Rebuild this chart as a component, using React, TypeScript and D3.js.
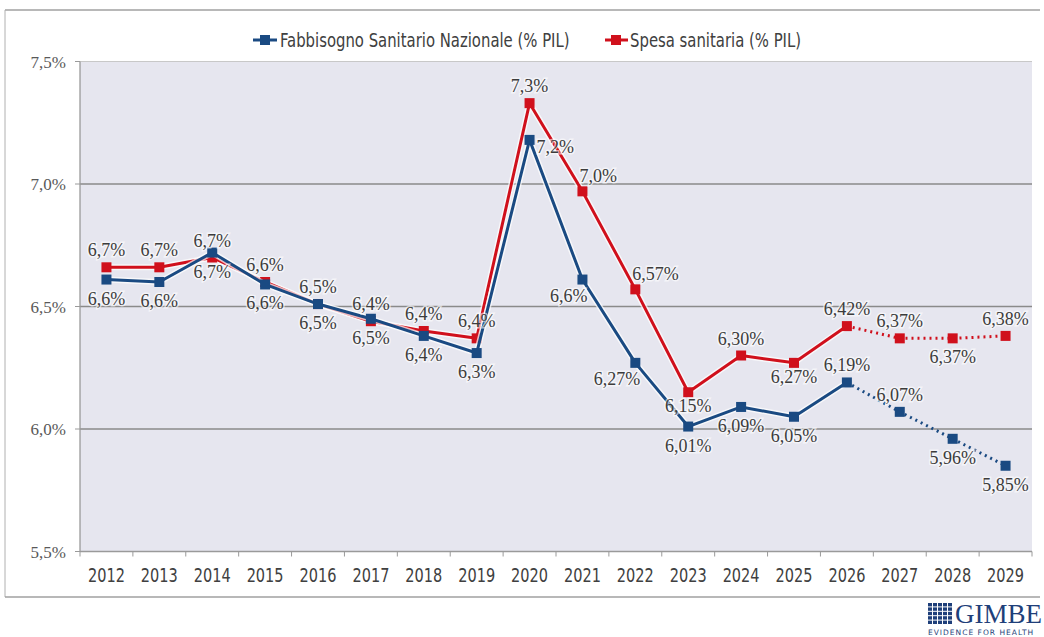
import React from 'react'
import * as d3 from 'd3'

// anni e serie (% PIL)
const years = ['2012', '2013', '2014', '2015', '2016', '2017', '2018', '2019', '2020',
  '2021', '2022', '2023', '2024', '2025', '2026', '2027', '2028', '2029']
const fabbisogno = [6.61, 6.60, 6.72, 6.59, 6.51, 6.45, 6.38, 6.31, 7.18,
  6.61, 6.27, 6.01, 6.09, 6.05, 6.19, 6.07, 5.96, 5.85]
const spesa = [6.66, 6.66, 6.70, 6.60, 6.51, 6.44, 6.40, 6.37, 7.33,
  6.97, 6.57, 6.15, 6.30, 6.27, 6.42, 6.37, 6.37, 6.38]
const yTicks = [5.5, 6.0, 6.5, 7.0, 7.5]
const firstForecast = '2026'
const twoDecimalsFrom = 2022

// where each data label sits
const blueLabelPos = ['b', 'b', 'b', 'b', 'b', 'b', 'b', 'b', 'r', 'bl', 'bl', 'b', 'b', 'b', 'a', 'a', 'b', 'b']
const redLabelPos = ['a', 'a', 'a', 'a', 'a', 'a', 'a', 'a', 'a', 'ar', 'ar', 'bn', 'a', 'bn', 'a', 'a', 'b', 'a']

const W = 1044
const H = 637
const left = 80, right = 1032, top = 61.5, bottom = 551.5
const narrow = "'Liberation Sans Narrow', 'DejaVu Sans Condensed', sans-serif"
const serif = "'Liberation Serif', 'DejaVu Serif', serif"

const fmtPct = (v: number, year: string) => {
  const dec = +year >= twoDecimalsFrom ? 2 : 1
  return d3.format(`.${dec}f`)(v).replace('.', ',') + '%'
}

const labelOffset = (p: string) => {
  switch (p) {
    case 'a': return { dx: 0, dy: -11, anchor: 'middle' }
    case 'b': return { dx: 0, dy: 25, anchor: 'middle' }
    case 'bn': return { dx: 0, dy: 20, anchor: 'middle' }
    case 'r': return { dx: 7, dy: 13, anchor: 'start' }
    case 'bl': return { dx: 5, dy: 22, anchor: 'end' }
    case 'ar': return { dx: -3, dy: -9, anchor: 'start' }
    default: return { dx: 0, dy: 0, anchor: 'middle' }
  }
}

const Lines = ({ values, color, x, y }: any) => {
  const pts = values.map((v: number, i: number) => [x(years[i]), y(v)])
  const cut = years.indexOf(firstForecast)
  const line = d3.line()
  const solid = line(pts.slice(0, cut + 1))
  const dotted = line(pts.slice(cut))
  return (
    <g>
      <path d={solid} fill="none" stroke="#ffffff" strokeOpacity={0.7} strokeWidth={6} strokeLinejoin="round" />
      <path d={solid} fill="none" stroke={color} strokeWidth={3} strokeLinejoin="round" />
      <path d={dotted} fill="none" stroke={color} strokeWidth={3} strokeDasharray="2,4" />
      {pts.map((p: number[], i: number) => (
        <rect key={i} x={p[0] - 5} y={p[1] - 5} width={10} height={10} fill={color} />
      ))}
    </g>
  )
}

const Labels = ({ values, pos, x, y }: any) => (
  <g fontFamily={serif} fontSize={18} fill="#3c3c3c">
    {values.map((v: number, i: number) => {
      const o = labelOffset(pos[i])
      return (
        <text key={i} x={x(years[i]) + o.dx} y={y(v) + o.dy} textAnchor={o.anchor}
          stroke="#ffffff" strokeOpacity={0.6} strokeWidth={3} paintOrder="stroke">
          {fmtPct(v, years[i])}
        </text>
      )
    })}
  </g>
)

export default function App() {
  const xb = d3.scaleBand().domain(years).range([left, right])
  const x = (d: string) => (xb(d) as number) + xb.bandwidth() / 2
  const y = d3.scaleLinear().domain([5.5, 7.5]).range([bottom, top])
  const blue = '#1a4a82'
  const red = '#d0101c'

  return (
    <svg width={W} height={H} style={{ position: 'absolute', left: 0, top: 0, background: '#fff' }}>
      {/* frame */}
      <line x1={5} x2={1040} y1={10} y2={10} stroke="#a0a0a0" strokeWidth={1.5} />
      <line x1={5} x2={5} y1={10} y2={597} stroke="#b0b0b0" />
      <line x1={5} x2={1040} y1={597} y2={597} stroke="#a0a0a0" strokeWidth={1.5} />

      {/* plot area */}
      <rect x={left} y={top} width={right - left} height={bottom - top} fill="#e6e6ef" />
      {yTicks.slice(1, -1).map(t => (
        <line key={t} x1={left} x2={right} y1={y(t)} y2={y(t)} stroke="#8a8a8a" strokeWidth={1.3} />
      ))}
      <line x1={left} x2={right} y1={top} y2={top} stroke="#c8c8c8" />
      <line x1={left} x2={left} y1={top} y2={bottom} stroke="#9a9a9a" strokeWidth={1.3} />
      <line x1={left} x2={right} y1={bottom} y2={bottom} stroke="#9a9a9a" strokeWidth={1.3} />
      {yTicks.map(t => (
        <g key={t}>
          <line x1={left - 5} x2={left} y1={y(t)} y2={y(t)} stroke="#9a9a9a" />
          <text x={left - 14} y={y(t) + 6} textAnchor="end" fontFamily={serif}
            fontSize={17} fill="#595959">{d3.format('.1f')(t).replace('.', ',') + '%'}</text>
        </g>
      ))}
      {years.map(d => (
        <g key={d}>
          <line x1={xb(d) as number} x2={xb(d) as number} y1={bottom} y2={bottom + 5} stroke="#9a9a9a" />
          <text transform={`translate(${x(d)},${bottom + 30}) scale(0.85,1)`} textAnchor="middle"
            fontFamily={narrow} fontSize={19} fill="#404040">{d}</text>
        </g>
      ))}
      <line x1={right} x2={right} y1={bottom} y2={bottom + 5} stroke="#9a9a9a" />

      <Lines values={spesa} color={red} x={x} y={y} />
      <Lines values={fabbisogno} color={blue} x={x} y={y} />
      <Labels values={spesa} pos={redLabelPos} x={x} y={y} />
      <Labels values={fabbisogno} pos={blueLabelPos} x={x} y={y} />

      {/* legend */}
      <g fontFamily={narrow} fontSize={19} fill="#404040">
        <line x1={253} x2={277} y1={40} y2={40} stroke={blue} strokeWidth={3} />
        <rect x={260} y={35} width={10} height={10} fill={blue} />
        <text transform="translate(280,47) scale(0.87,1)">Fabbisogno Sanitario Nazionale (% PIL)</text>
        <line x1={605} x2={628} y1={40} y2={40} stroke={red} strokeWidth={3} />
        <rect x={611} y={35} width={10} height={10} fill={red} />
        <text transform="translate(630,47) scale(0.87,1)">Spesa sanitaria (% PIL)</text>
      </g>

      {/* logo */}
      <g fill="#1f3f7a">
        {d3.range(5).map(r => d3.range(5).map(c => (
          <rect key={r + '-' + c} x={928 + c * 5} y={603 + r * 4.4} width={4} height={3.4} />
        )))}
        <text x={955} y={623} fontFamily={serif} fontSize={27}>GIMBE</text>
        <text x={928} y={635} fontFamily="'DejaVu Sans', sans-serif" fontSize={7.5} letterSpacing={1}>EVIDENCE FOR HEALTH</text>
      </g>
    </svg>
  )
}
